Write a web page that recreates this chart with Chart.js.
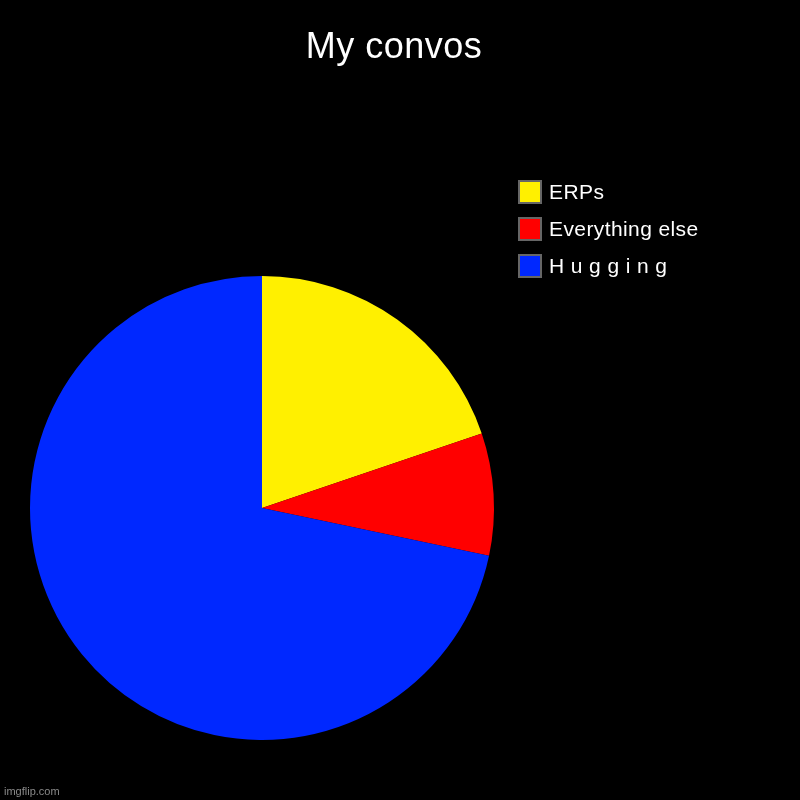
<!DOCTYPE html>
<html>
<head>
<meta charset="utf-8">
<script src="https://cdn.jsdelivr.net/npm/chart.js@4"></script>
<style>
	html, body { margin: 0; padding: 0; background: #000; }
	#canvas { display: block; }
</style>
</head>
<body>
<div style="width:800px;height:800px;"><canvas id="canvas" width="800" height="800"></canvas></div>
<script>
const titulo = "My convos";
const etiquetas = ["ERPs", "Everything else", "H u g g i n g"];
const valores = [19.8, 8.5, 71.7];
const colores = ["#fff000", "#ff0000", "#0028ff"];

const canvas = document.getElementById("canvas");

// titulo, leyenda y marca de agua dibujados a mano
const extras = {
	id: "extras",
	afterDraw(chart) {
		const ctx = chart.ctx;
		ctx.save();
		ctx.fillStyle = "#ffffff";
		ctx.font = "36px 'Liberation Sans', Arial, sans-serif";
		ctx.letterSpacing = "0.5px";
		ctx.textAlign = "center";
		ctx.textBaseline = "alphabetic";
		ctx.fillText(titulo, 394, 58);

		ctx.textAlign = "left";
		ctx.font = "21px 'Liberation Sans', Arial, sans-serif";
		ctx.letterSpacing = "0.4px";
		chart.data.labels.forEach((label, i) => {
			const y = 181 + i * 37;
			ctx.fillStyle = chart.data.datasets[0].backgroundColor[i];
			ctx.fillRect(519, y, 22, 22);
			ctx.strokeStyle = "#666666";
			ctx.lineWidth = 2;
			ctx.strokeRect(519, y, 22, 22);
			ctx.fillStyle = "#ffffff";
			ctx.fillText(label, 549, y + 18);
		});

		ctx.letterSpacing = "0px";
		ctx.fillStyle = "#8a8a8a";
		ctx.font = "11px 'Liberation Sans', Arial, sans-serif";
		ctx.textBaseline = "middle";
		ctx.fillText("imgflip.com", 4, 792);
		ctx.restore();
	},
};

const grafico = new Chart(canvas, {
	type: "pie",
	data: {
		labels: etiquetas,
		datasets: [
			{
				data: valores,
				backgroundColor: colores,
				borderWidth: 0,
			},
		],
	},
	options: {
		responsive: false,
		animation: false,
		layout: {
			padding: { left: 30, right: 306, top: 276, bottom: 60 },
		},
		plugins: {
			legend: { display: false },
			title: { display: false },
			tooltip: { enabled: false },
		},
	},
	plugins: [extras],
});
</script>
</body>
</html>
